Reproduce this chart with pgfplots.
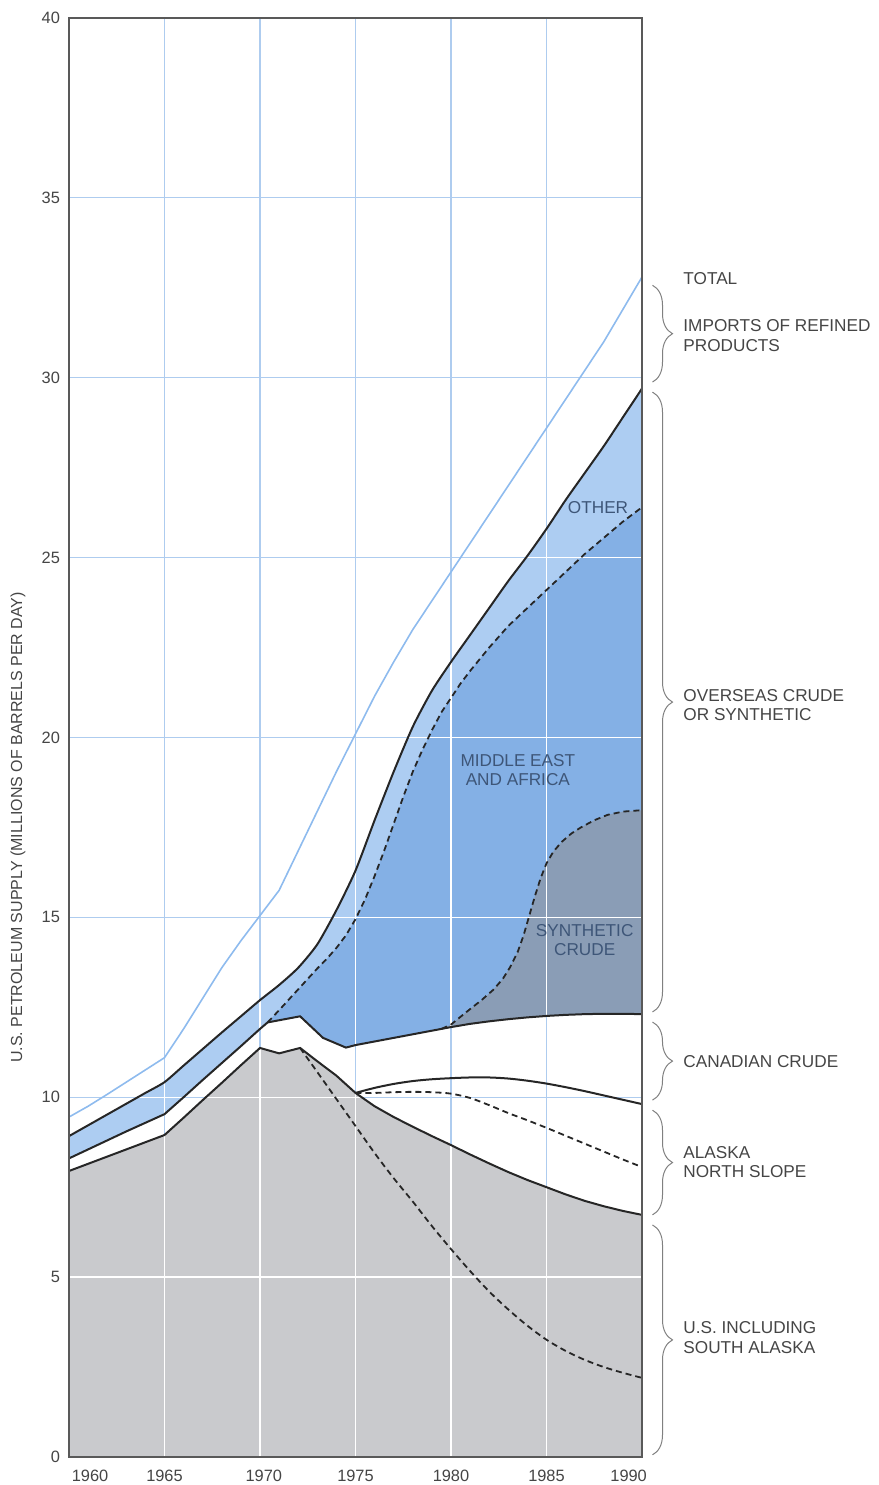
\documentclass[border=0pt]{standalone}
\usepackage{pgfplots}
\pgfplotsset{compat=1.18}
\usepackage{pgfplotstable}
\usepgfplotslibrary{fillbetween}
\usetikzlibrary{decorations.pathreplacing}
\usepackage{fontspec}
\setmainfont{Liberation Sans}

\definecolor{gridblue}{HTML}{AECCEF}
\definecolor{totblue}{HTML}{8EBBEE}
\definecolor{otherblue}{HTML}{ADCDF2}
\definecolor{meblue}{HTML}{84B0E5}
\definecolor{synthc}{HTML}{8A9DB6}
\definecolor{usgray}{HTML}{C9CACD}
\definecolor{txt}{HTML}{454545}
\definecolor{inner}{HTML}{3E5678}

\pgfplotstableread{
year v
1960 9.45
1961 9.75
1962 10.08
1963 10.42
1964 10.76
1965 11.1
1966 11.9
1967 12.75
1968 13.6
1969 14.35
1970 15.05
1971 15.75
1972 16.85
1973 17.95
1974 19.05
1975 20.1
1976 21.15
1977 22.1
1978 23.0
1979 23.8
1980 24.6
1981 25.4
1982 26.2
1983 27.0
1984 27.8
1985 28.6
1986 29.4
1987 30.2
1988 31.0
1989 31.9
1990 32.8
}\totaldata

\pgfplotstableread{
year v
1960 8.92
1961 9.22
1962 9.52
1963 9.82
1964 10.12
1965 10.42
1966 10.88
1967 11.34
1968 11.8
1969 12.25
1970 12.7
1971 13.12
1972 13.6
1973 14.25
1974 15.2
1975 16.3
1976 17.7
1977 19.05
1978 20.3
1979 21.3
1980 22.1
1981 22.85
1982 23.6
1983 24.35
1984 25.05
1985 25.8
1986 26.6
1987 27.35
1988 28.1
1989 28.9
1990 29.7
}\ovdata

\pgfplotstableread{
year v
1960 8.3
1961 8.55
1962 8.8
1963 9.05
1964 9.29
1965 9.53
1966 10.0
1967 10.48
1968 10.95
1969 11.42
1970 11.9
1970.4 12.08
1971 12.14
1972.1 12.25
1973.3 11.65
1974.5 11.38
1975 11.45
1976 11.55
1977 11.65
1978 11.75
1979 11.85
1979.5 11.9
1980 11.95
1981 12.04
1982 12.11
1983 12.17
1984 12.22
1985 12.26
1986 12.29
1987 12.31
1988 12.32
1989 12.32
1990 12.31
}\candata

\pgfplotstableread{
year v
1970.4 12.08
1971 12.42
1972 13.0
1973 13.58
1973.5 13.85
1974 14.15
1974.5 14.5
1975 14.95
1975.5 15.5
1976 16.15
1976.5 16.85
1977 17.6
1977.5 18.35
1978 19.05
1978.5 19.65
1979 20.2
1979.5 20.7
1980 21.1
1980.5 21.5
1981 21.85
1982 22.5
1983 23.1
1984 23.6
1985 24.1
1986 24.6
1987 25.1
1988 25.55
1989 26.0
1990 26.4
}\medata

\pgfplotstableread{
year v
1979.5 11.9
1980 12.02
1980.6 12.28
1981 12.45
1981.6 12.7
1982.2 12.98
1982.7 13.28
1983.1 13.62
1983.5 14.05
1983.8 14.5
1984.1 15.05
1984.4 15.6
1984.7 16.1
1985 16.5
1985.35 16.82
1985.8 17.1
1986.3 17.33
1986.8 17.5
1987.5 17.7
1988.2 17.85
1989 17.94
1990 17.98
}\syndata

\pgfplotstableread{
year v
1960 7.95
1961 8.15
1962 8.35
1963 8.55
1964 8.75
1965 8.95
1966 9.43
1967 9.92
1968 10.4
1969 10.89
1970 11.37
1971 11.22
1972.1 11.37
1973 11.0
1974 10.6
1975 10.12
1976 9.75
1977 9.45
1978 9.18
1979 8.92
1980 8.67
1981 8.41
1982 8.16
1983 7.92
1984 7.7
1985 7.5
1986 7.3
1987 7.12
1988 6.97
1989 6.84
1990 6.73
}\usdata

\pgfplotstableread{
year v
1972.1 11.37
1973 10.7
1974 9.95
1975 9.2
1976 8.45
1977 7.75
1978 7.1
1979 6.42
1980 5.78
1981 5.17
1982 4.6
1983 4.1
1984 3.65
1985 3.26
1986 2.95
1987 2.7
1988 2.5
1989 2.34
1990 2.2
}\usdashdata

\pgfplotstableread{
year v
1975 10.12
1976 10.26
1977 10.37
1978 10.45
1979 10.5
1980 10.53
1981 10.55
1982 10.55
1983 10.52
1984 10.46
1985 10.38
1986 10.28
1987 10.17
1988 10.05
1989 9.93
1990 9.81
}\aktopdata

\pgfplotstableread{
year v
1975 10.12
1976 10.12
1977 10.14
1978 10.15
1979 10.14
1980 10.1
1981 9.98
1982 9.78
1983 9.56
1984 9.36
1985 9.15
1986 8.93
1987 8.71
1988 8.49
1989 8.27
1990 8.06
}\akdashdata

\begin{document}
\begin{tikzpicture}
\begin{axis}[
  at={(0,0)}, anchor=south west,
  scale only axis, width=286.5pt, height=719.5pt,
  xmin=1960, xmax=1990, ymin=0, ymax=40,
  xtick={1961.1,1965,1970.2,1975,1980,1985,1989.3},
  xticklabels={1960,1965,1970,1975,1980,1985,1990},
  minor xtick={1965,1970,1975,1980,1985},
  xminorgrids=true, ymajorgrids=true, xmajorgrids=false,
  ytick={0,5,...,40},
  major tick length=0pt, minor tick length=0pt,
  grid style={gridblue, line width=0.6pt},
  major grid style={gridblue, line width=0.6pt},
  minor grid style={gridblue, line width=0.6pt},
  axis line style={draw=black!65, line width=0.8pt},
  tick label style={font=\fontsize{8.2}{9}\selectfont, text=txt},
  /pgf/number format/assume math mode=true,
  xticklabel style={yshift=-3pt},
  yticklabel style={xshift=-1pt},
  clip=false,
  unbounded coords=jump,
]
% named paths
\addplot[draw=none, smooth, tension=0.4, name path=ov, forget plot] table[x=year,y=v]{\ovdata};
\addplot[draw=none, name path=can, forget plot] table[x=year,y=v]{\candata};
\addplot[draw=none, name path=me, forget plot] table[x=year,y=v]{\medata};
\addplot[draw=none, name path=syn, forget plot] table[x=year,y=v]{\syndata};
% fills
\addplot[fill=otherblue, draw=none, forget plot] fill between[of=ov and can];
\addplot[fill=meblue, draw=none, forget plot] fill between[of=me and can, soft clip={domain=1970.4:1990}];
\addplot[fill=synthc, draw=none, forget plot] fill between[of=syn and can, soft clip={domain=1979.5:1990}];
\addplot[fill=usgray, draw=none, forget plot] table[x=year,y=v]{\usdata} \closedcycle;
% white grid lines over coloured areas
\addplot[white, line width=0.7pt, forget plot] coordinates {
(1965,0) (1965,8.95) (1965,nan) (1965,9.53) (1965,10.42) (1965,nan)
(1970,0) (1970,11.37) (1970,nan) (1970,11.9) (1970,12.7) (1970,nan)
(1975,0) (1975,10.12) (1975,nan) (1975,11.45) (1975,16.3) (1975,nan)
(1980,0) (1980,8.67) (1980,nan) (1980,11.95) (1980,22.1) (1980,nan)
(1985,0) (1985,7.5) (1985,nan) (1985,12.26) (1985,25.8) (1985,nan)
(1960,5) (1990,5) (1990,nan)
(1963.6,10) (1966.0,10) (1966,nan)
(1967.17,10) (1975.32,10) (1975,nan)
(1973.79,15) (1990,15) (1990,nan)
(1977.76,20) (1990,20) (1990,nan)
(1983.93,25) (1990,25)
};
% curves
\addplot[black!85, line width=1pt, forget plot] table[x=year,y=v]{\usdata};
\addplot[black!85, line width=1pt, forget plot] table[x=year,y=v]{\candata};
\addplot[black!85, line width=1pt, smooth, tension=0.4, forget plot] table[x=year,y=v]{\ovdata};
\addplot[black!85, line width=1pt, smooth, tension=0.5, forget plot] table[x=year,y=v]{\aktopdata};
\addplot[black!85, line width=0.9pt, dash pattern=on 3pt off 2pt, forget plot] table[x=year,y=v]{\medata};
\addplot[black!85, line width=0.9pt, dash pattern=on 3pt off 2pt, forget plot] table[x=year,y=v]{\syndata};
\addplot[black!85, line width=0.9pt, smooth, tension=0.5, dash pattern=on 3pt off 2pt, forget plot] table[x=year,y=v]{\usdashdata};
\addplot[black!85, line width=0.9pt, smooth, tension=0.5, dash pattern=on 3pt off 2pt, forget plot] table[x=year,y=v]{\akdashdata};
\addplot[totblue, line width=0.8pt, forget plot] table[x=year,y=v]{\totaldata};

% frame on top
\draw[black!65, line width=0.8pt] (rel axis cs:0,0) rectangle (rel axis cs:1,1);

% inner labels
\node[text=inner, font=\fontsize{8.6}{9.5}\selectfont] at (axis cs:1987.7,26.4) {OTHER};
\node[text=inner, font=\fontsize{8.6}{9.5}\selectfont, align=center] at (axis cs:1983.5,19.1) {MIDDLE EAST\\AND AFRICA};
\node[text=inner, font=\fontsize{8.6}{9.5}\selectfont, align=center] at (axis cs:1987.0,14.37) {SYNTHETIC\\CRUDE};

% y label
\node[rotate=90, text=txt, font=\fontsize{8}{9}\selectfont] at ([xshift=-25.5pt]axis cs:1960,17.5) {U.S. PETROLEUM SUPPLY (MILLIONS OF BARRELS PER DAY)};

% braces
\draw[black!50, line width=0.5pt, decorate, decoration={brace, amplitude=10pt}] (axis cs:1990.55,32.57) -- (axis cs:1990.55,29.88);
\draw[black!50, line width=0.5pt, decorate, decoration={brace, amplitude=10pt}] (axis cs:1990.55,29.6) -- (axis cs:1990.55,12.37);
\draw[black!50, line width=0.5pt, decorate, decoration={brace, amplitude=10pt}] (axis cs:1990.55,12.09) -- (axis cs:1990.55,9.92);
\draw[black!50, line width=0.5pt, decorate, decoration={brace, amplitude=10pt}] (axis cs:1990.55,9.64) -- (axis cs:1990.55,6.73);
\draw[black!50, line width=0.5pt, decorate, decoration={brace, amplitude=10pt}] (axis cs:1990.55,6.45) -- (axis cs:1990.55,0.06);

% right labels
\node[anchor=west, align=left, text=txt, font=\fontsize{8.6}{9.6}\selectfont] at (axis cs:1991.8,32.77) {TOTAL};
\node[anchor=west, align=left, text=txt, font=\fontsize{8.6}{9.6}\selectfont] at (axis cs:1991.8,31.17) {IMPORTS OF REFINED\\PRODUCTS};
\node[anchor=west, align=left, text=txt, font=\fontsize{8.6}{9.6}\selectfont] at (axis cs:1991.8,20.91) {OVERSEAS CRUDE\\OR SYNTHETIC};
\node[anchor=west, align=left, text=txt, font=\fontsize{8.6}{9.6}\selectfont] at (axis cs:1991.8,10.98) {CANADIAN CRUDE};
\node[anchor=west, align=left, text=txt, font=\fontsize{8.6}{9.6}\selectfont] at (axis cs:1991.8,8.19) {ALASKA\\NORTH SLOPE};
\node[anchor=west, align=left, text=txt, font=\fontsize{8.6}{9.6}\selectfont] at (axis cs:1991.8,3.32) {U.S. INCLUDING\\SOUTH ALASKA};
\end{axis}
\pgfresetboundingbox
\path[use as bounding box] (-34.5pt,-14pt) rectangle (405pt,728.5pt);
\end{tikzpicture}
\end{document}
